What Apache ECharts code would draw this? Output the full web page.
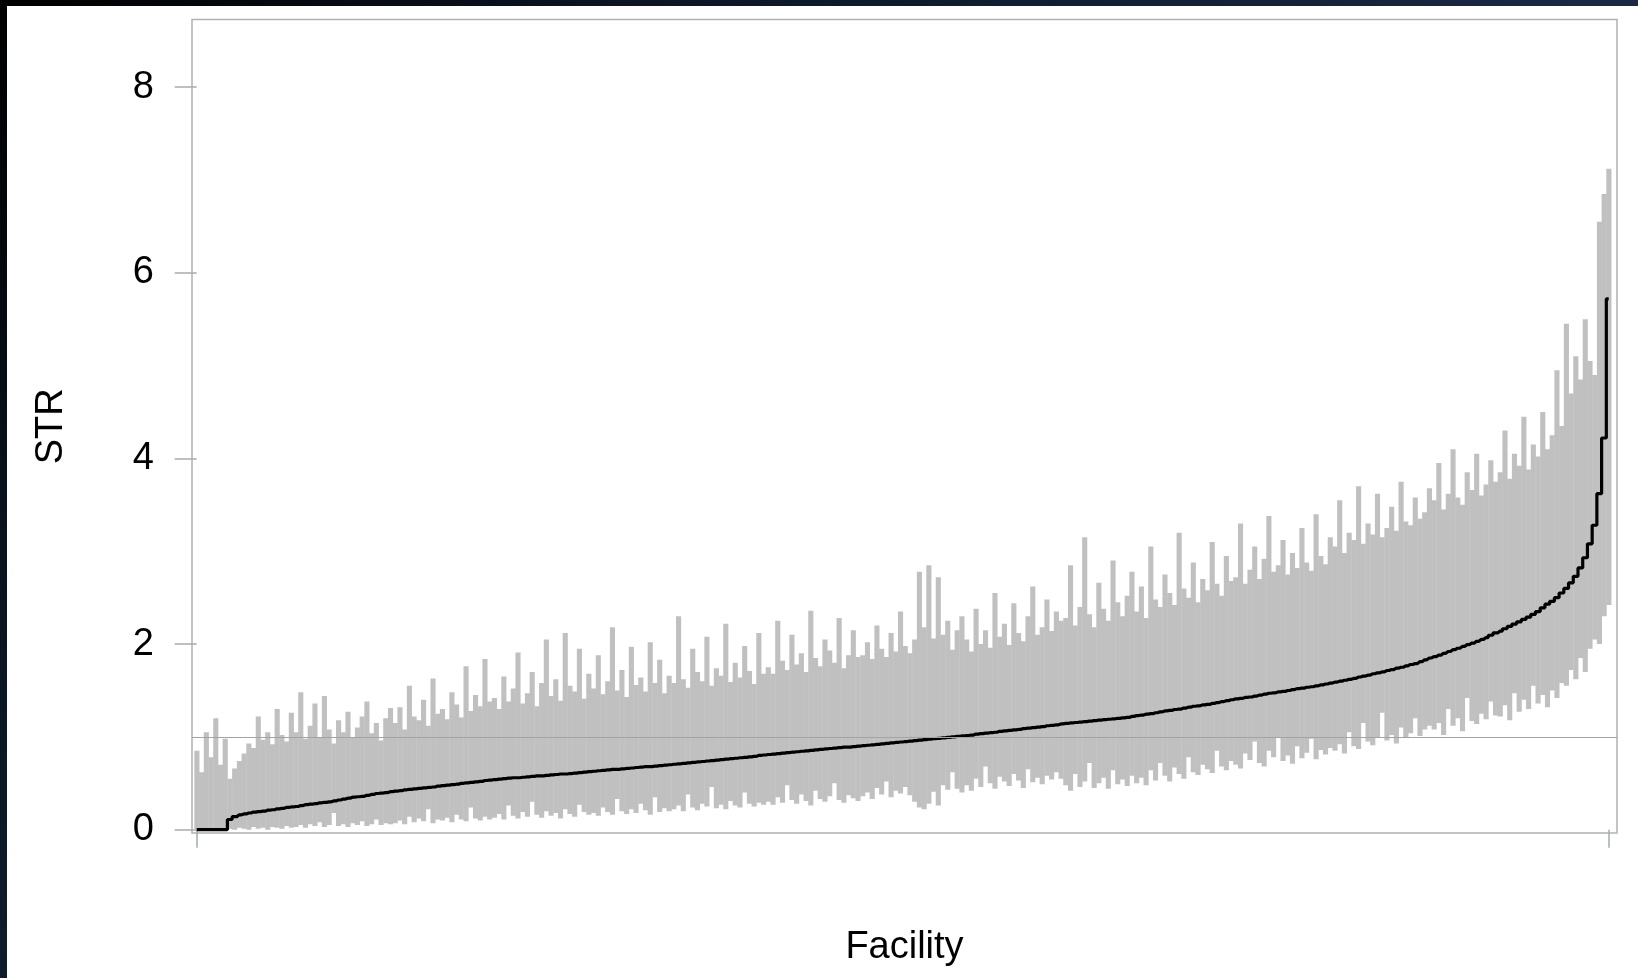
<!DOCTYPE html>
<html><head><meta charset="utf-8">
<script src="https://cdn.jsdelivr.net/npm/echarts@6/dist/echarts.min.js"></script>
<style>
html,body{margin:0;padding:0;background:#fff;width:1638px;height:978px;overflow:hidden}
#topband{position:absolute;left:0;top:0;width:1638px;height:6px;background:linear-gradient(to right,#000 0%,#0b1524 40%,#1a2a44 100%)}
#leftband{position:absolute;left:0;top:0;width:7px;height:978px;background:linear-gradient(to bottom,#000 0%,#0a1420 60%,#0f1c2c 100%)}
#chart{position:absolute;left:0;top:0;width:1638px;height:978px}
</style></head><body>
<div id="topband"></div><div id="leftband"></div><div id="chart"></div>
<script>
// Point estimate (STR) per facility, sorted ascending
const str = [
0,0,0,0,0,0,0,
0.11,0.14,0.16,0.17,0.18,0.19,0.195,0.20,0.21,0.215,0.225,0.23,0.24,0.245,
0.25,0.26,0.27,0.275,0.28,0.29,0.295,0.30,0.31,0.32,
0.33,0.34,0.35,0.355,0.36,0.37,0.38,0.39,0.395,0.40,0.41,
0.415,0.42,0.43,0.435,0.44,0.445,0.45,0.455,0.46,0.47,0.475,0.48,0.485,0.49,0.50,0.505,0.51,0.515,0.52,0.53,0.535,
0.54,0.545,0.55,0.555,0.56,0.56,0.565,0.57,0.575,0.58,0.58,0.585,0.59,0.595,0.60,0.60,0.605,0.61,0.615,0.62,0.625,
0.63,0.635,0.64,0.645,0.65,0.65,0.655,0.66,0.665,0.67,0.675,0.68,0.68,0.685,0.69,0.695,0.70,
0.705,0.71,0.715,0.72,0.725,0.73,0.735,0.74,0.745,0.75,0.755,0.76,0.765,0.77,0.775,0.78,0.785,0.79,0.80,0.805,
0.81,0.815,0.82,0.825,0.83,0.835,0.84,0.845,0.85,0.855,0.86,0.865,0.87,0.875,0.88,0.885,0.89,0.89,0.895,0.90,
0.905,0.91,0.915,0.92,0.925,0.93,0.935,0.94,0.945,0.95,0.955,0.96,0.965,0.97,0.975,0.98,0.985,0.99,0.995,1.00,1.005,1.01,
1.015,1.02,1.03,1.035,1.04,1.045,1.05,1.06,1.065,1.07,1.075,1.08,1.09,1.095,1.10,1.105,1.11,1.12,1.125,1.13,1.14,
1.145,1.15,1.155,1.16,1.165,1.17,1.175,1.18,1.185,1.19,1.195,1.20,1.205,1.21,1.22,
1.23,1.235,1.245,1.25,1.26,1.27,1.28,1.285,1.295,1.30,1.31,1.32,1.33,1.335,1.345,1.35,1.36,1.37,1.38,1.39,1.40,
1.41,1.415,1.425,1.43,1.44,1.45,1.46,1.47,1.475,1.485,1.49,1.50,1.51,1.52,1.525,1.535,1.54,1.55,1.56,1.57,1.58,
1.59,1.60,1.61,1.62,1.63,1.645,1.655,1.665,1.68,1.69,1.70,1.715,1.725,1.74,1.75,1.765,1.78,1.79,1.81,1.83,1.85,
1.865,1.88,1.90,1.92,1.94,1.955,1.975,1.995,2.01,2.03,2.05,2.07,2.095,2.12,
2.14,2.165,2.19,2.215,2.24,2.265,2.29,
2.32,2.35,2.39,2.43,2.46,2.50,2.55,
2.60,2.66,2.73,2.82,2.93,3.08,3.28,3.62,4.22,5.72
];
// Upper confidence limit per facility
const upper = [
0.85,0.62,1.05,0.78,1.20,0.70,0.98,
0.55,0.66,0.74,0.82,0.93,0.88,1.22,0.97,1.05,0.92,1.30,1.02,0.95,1.26,
1.05,1.48,0.98,1.12,1.36,1.00,1.44,1.08,0.93,1.18,1.05,1.27,0.99,1.10,1.22,1.38,1.04,1.15,0.96,1.20,1.31,
1.15,1.32,1.08,1.55,1.22,1.18,1.40,1.12,1.63,1.25,1.30,1.19,1.48,1.35,1.21,1.76,1.28,1.45,1.33,1.84,1.38,
1.42,1.30,1.65,1.38,1.52,1.91,1.36,1.47,1.70,1.33,1.58,2.05,1.44,1.62,1.39,2.12,1.55,1.49,1.95,1.41,1.68,
1.52,1.88,1.46,1.60,2.18,1.50,1.72,1.43,1.97,1.56,1.64,1.49,2.02,1.58,1.83,1.47,1.66,
1.58,2.30,1.62,1.53,1.95,1.70,1.60,2.08,1.55,1.74,1.66,2.22,1.59,1.80,1.64,1.98,1.71,1.57,2.12,1.68,
1.75,1.68,2.25,1.82,1.72,2.10,1.78,1.90,1.70,2.36,1.85,1.76,2.05,1.93,1.80,2.28,1.74,1.88,2.15,1.86,
1.88,2.02,1.84,2.20,1.95,1.86,2.12,1.92,2.35,1.98,1.90,2.05,2.78,2.18,2.85,2.06,2.72,2.10,2.25,1.94,2.15,2.30,
2.05,1.92,2.38,2.00,2.15,1.96,2.55,2.08,2.22,1.99,2.44,2.12,2.03,2.30,2.62,2.10,2.18,2.48,2.14,2.35,2.25,
2.28,2.85,2.20,2.40,3.15,2.32,2.18,2.66,2.38,2.25,2.90,2.45,2.30,2.52,2.78,
2.35,2.62,2.28,3.05,2.48,2.40,2.75,2.55,2.42,3.20,2.60,2.50,2.88,2.45,2.70,2.58,3.10,2.65,2.52,2.95,2.68,
2.72,3.30,2.65,2.80,3.05,2.70,2.92,3.38,2.78,2.85,3.12,2.75,2.98,2.82,3.25,2.88,2.79,3.40,2.95,2.86,3.15,
3.05,3.55,2.98,3.20,3.12,3.70,3.08,3.30,3.18,3.62,3.15,3.25,3.48,3.22,3.75,3.32,3.28,3.58,3.35,3.42,3.68,
3.55,3.95,3.45,3.62,4.10,3.58,3.50,3.85,3.66,4.05,3.60,3.72,3.98,3.75,
3.85,4.30,3.78,4.05,3.92,4.45,3.88,4.15,4.02,4.50,4.10,4.25,4.95,4.35,
5.45,4.70,5.10,4.85,5.50,5.05,4.90,6.55,6.85,7.12
];
// Lower confidence limit per facility
const lower = [
0,0,0,0,0,0,0,
0.01,0.0,0.02,0.01,0.0,0.03,0.01,0.02,0.0,0.03,0.02,0.01,0.04,0.02,
0.03,0.05,0.02,0.06,0.04,0.08,0.03,0.05,0.18,0.04,0.06,0.03,0.07,0.05,0.09,0.04,0.06,0.11,0.05,0.07,0.06,
0.07,0.10,0.06,0.14,0.08,0.12,0.09,0.22,0.07,0.11,0.10,0.13,0.08,0.16,0.11,0.09,0.24,0.12,0.10,0.14,0.11,
0.13,0.17,0.11,0.26,0.15,0.12,0.19,0.14,0.30,0.16,0.13,0.20,0.15,0.18,0.12,0.22,0.17,0.14,0.27,0.19,0.16,
0.18,0.15,0.24,0.19,0.16,0.33,0.20,0.17,0.22,0.18,0.28,0.21,0.16,0.35,0.19,0.23,0.20,
0.22,0.26,0.20,0.38,0.24,0.21,0.28,0.25,0.46,0.23,0.27,0.22,0.31,0.26,0.24,0.40,0.28,0.25,0.29,0.27,
0.30,0.27,0.35,0.29,0.48,0.32,0.28,0.38,0.31,0.26,0.42,0.33,0.30,0.36,0.50,0.32,0.29,0.37,0.34,0.31,
0.36,0.40,0.33,0.45,0.38,0.52,0.35,0.42,0.39,0.46,0.37,0.30,0.24,0.22,0.28,0.41,0.26,0.48,0.43,0.62,0.44,0.40,
0.48,0.42,0.55,0.46,0.68,0.50,0.44,0.57,0.52,0.47,0.60,0.53,0.45,0.65,0.51,0.56,0.49,0.58,0.54,0.62,0.55,
0.48,0.42,0.60,0.46,0.52,0.72,0.45,0.50,0.56,0.44,0.64,0.49,0.54,0.47,0.58,
0.50,0.56,0.48,0.64,0.53,0.72,0.58,0.52,0.67,0.60,0.55,0.78,0.62,0.59,0.70,0.65,0.61,0.85,0.68,0.64,0.74,
0.70,0.66,0.82,0.75,0.95,0.72,0.68,0.85,0.78,1.00,0.74,0.80,0.71,0.90,0.77,0.83,0.98,0.76,0.86,0.81,0.88,
0.85,0.92,0.82,1.05,0.90,0.87,1.15,0.95,0.91,1.00,1.26,0.96,1.02,0.93,1.10,0.99,1.04,1.20,1.01,1.08,1.12,
1.08,1.15,1.02,1.30,1.12,1.20,1.06,1.42,1.17,1.14,1.25,1.19,1.38,1.23,
1.22,1.34,1.18,1.47,1.27,1.40,1.30,1.55,1.36,1.45,1.32,1.50,1.42,1.58,
1.55,1.72,1.62,1.85,1.70,1.95,2.05,2.00,2.30,2.42
];
const yTicks = [0, 2, 4, 6, 8];
const refLine = [1];
const xTitle = 'Facility';
const yTitle = 'STR';

const n = str.length;
const facility = str.map((_, i) => i);
const xTicks = [facility[0], facility[n - 1]];

const chart = echarts.init(document.getElementById('chart'), null, {renderer: 'canvas'});
const font = 'Liberation Sans, Arial, sans-serif';
chart.setOption({
  animation: false,
  backgroundColor: 'transparent',
  grid: {left: 192, top: 19.5, right: 21, bottom: 145, show: true,
         borderColor: '#aeb2b6', borderWidth: 1.5, backgroundColor: 'transparent'},
  xAxis: {
    type: 'value', min: -0.995, max: n - 1 + 1.76,
    name: xTitle, nameLocation: 'middle', nameGap: 96,
    nameTextStyle: {fontSize: 38, color: '#000', fontFamily: font},
    axisLine: {show: false},
    axisTick: {show: true, length: 18, customValues: xTicks, lineStyle: {color: '#a8acb0', width: 1.5}},
    axisLabel: {show: false},
    splitLine: {show: false}
  },
  yAxis: {
    type: 'value', min: -0.0355, max: 8.729,
    name: yTitle, nameLocation: 'middle', nameGap: 121, nameRotate: 90,
    nameTextStyle: {fontSize: 38, color: '#000', fontFamily: font},
    axisLine: {show: false},
    axisTick: {show: true, length: 22, customValues: yTicks, lineStyle: {color: '#a8acb0', width: 1.5}},
    axisLabel: {show: true, customValues: yTicks, margin: 38, fontSize: 38, color: '#000', fontFamily: font},
    splitLine: {show: false}
  },
  series: [
    {
      type: 'custom', silent: true, z: 1, clip: true,
      data: facility.map(i => [i, lower[i], upper[i]]),
      encode: {x: 0, y: [1, 2]},
      renderItem: function (params, api) {
        const i = api.value(0);
        const top = api.coord([i, api.value(2)]);
        const bot = api.coord([i, api.value(1)]);
        const w = api.size([1, 0])[0];
        return {type: 'rect',
          shape: {x: top[0] - w / 2, y: top[1], width: w + 0.4, height: bot[1] - top[1]},
          style: {fill: '#c0c0c0'}};
      }
    },
    {
      type: 'line', data: [], z: 2, silent: true,
      markLine: {silent: true, symbol: 'none', label: {show: false},
        lineStyle: {color: '#a3a3a3', width: 1, type: 'solid'},
        data: refLine.map(v => ({yAxis: v}))}
    },
    {
      type: 'line', z: 3, silent: true, step: 'middle', showSymbol: false,
      data: facility.map(i => [i, str[i]]),
      lineStyle: {color: '#000', width: 3.2}
    }
  ]
});
</script>
</body></html>
